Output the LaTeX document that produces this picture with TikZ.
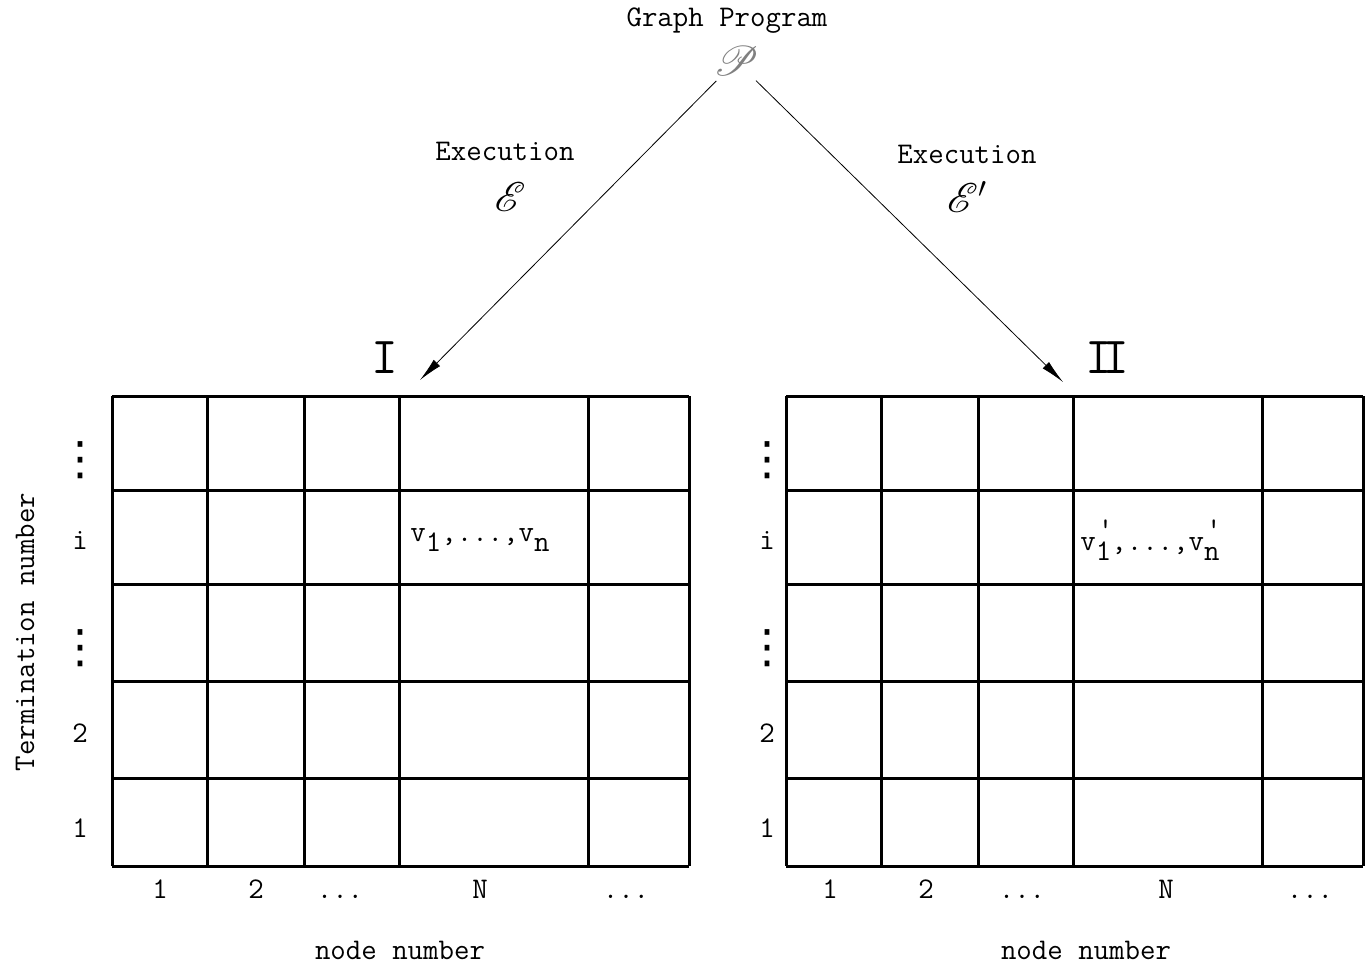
\documentclass[tikz,border=0pt]{standalone}
\usepackage{fontspec}
\usepackage{mathrsfs}
\usetikzlibrary{arrows.meta}
\newfontfamily\symfont{DejaVu Sans}
\newcommand{\sbs}[1]{\lower5pt\hbox{#1}}
\newcommand{\sbp}[1]{\lower5pt\hbox{\rlap{\kern1pt\raise11pt\hbox{'}}#1}}
\newcommand{\vdts}{{\symfont\fontsize{23}{23}\selectfont ⋮}}
\newcommand{\hdts}{...}
\tikzset{
  grid line/.style={line width=1.5pt},
  numeral/.style={font=\fontsize{26}{26}\selectfont\ttfamily},
  script/.style={font=\fontsize{20}{20}\selectfont},
  collabel/.style={anchor=base},
}
\begin{document}
\begin{tikzpicture}[x=.5pt,y=-.5pt,>={Latex[length=12pt,width=4.5pt]},font=\fontsize{15}{18}\selectfont\ttfamily]
  \useasboundingbox (0,0) rectangle (1369,966);
  % program and the two executions
  \node (prog) at (727,21) {Graph Program};
  \node[script,text=gray,inner sep=0pt] (P) at (736,61) {$\mathscr{P}$};
  \node (execI) at (505,151) {Execution};
  \node[script] (EI) at (510,197) {$\mathscr{E}$};
  \node (execII) at (967,154) {Execution};
  \node[script] (EII) at (967,197) {$\mathscr{E}'$};
  \coordinate (topI) at (420,380);
  \coordinate (topII) at (1063,382);
  \draw[->,shorten <=14pt] (P.center) -- (topI);
  \draw[->,shorten <=14pt] (P.center) -- (topII);
  \node[numeral] (numI) at (385,358) {I};
  \node[numeral] (numII) at (1107,358) {I\kern-5ptI};
  % the two tables
  \foreach \dx in {0,674} {
    \begin{scope}[xshift=\dx*.5pt]
      \foreach \x in {112,207,304,399,588,689}
        \draw[grid line] (\x,396) -- (\x,866);
      \foreach \y in {396,490,584,681,778,866}
        \draw[grid line] (112,\y) -- (689,\y);
    \end{scope}
  }
  % row labels
  \foreach \x in {80,767} {
    \node at (\x,460) {\vdts};
    \node at (\x,540) {i};
    \node at (\x,648) {\vdts};
    \node at (\x,733) {2};
    \node at (\x,828) {1};
  }
  % column labels
  \foreach \x/\lab in {160/1,256/2,340/\hdts,480/N,626/\hdts,830/1,926/2,1022/\hdts,1166/N,1310/\hdts}
    \node[collabel] at (\x,898) {\lab};
  \node (nodeI) at (400,950) {node number};
  \node (nodeII) at (1086,950) {node number};
  \node (valI) at (480,540) {v\sbs{1},...,v\sbs{n}};
  \node (valII) at (1150,540) {v\sbp{1},...,v\sbp{n}};
  \node[rotate=90] (term) at (25,632) {Termination number};
\end{tikzpicture}
\end{document}
